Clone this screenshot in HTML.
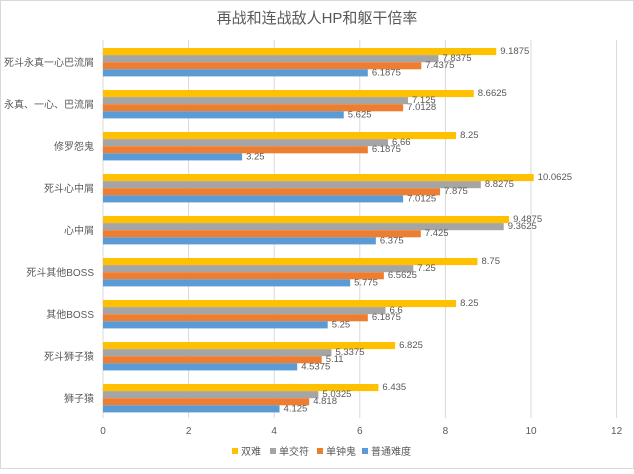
<!DOCTYPE html><html><head><meta charset="utf-8"><style>
body{margin:0;background:#fff}
svg text{font-family:"Liberation Sans","Noto Sans CJK SC",sans-serif;fill:#595959}
</style></head><body>
<svg width="634" height="469" xmlns="http://www.w3.org/2000/svg">
<rect x="0.5" y="0.5" width="633" height="468" fill="#fff" stroke="#d9d9d9"/>
<text x="317" y="23" font-size="15" text-anchor="middle">再战和连战敌人HP和躯干倍率</text>
<g stroke="#d9d9d9" stroke-width="1">
<line x1="103" y1="40" x2="103" y2="418"/><line x1="188.6" y1="40" x2="188.6" y2="418"/><line x1="274.2" y1="40" x2="274.2" y2="418"/><line x1="359.8" y1="40" x2="359.8" y2="418"/><line x1="445.4" y1="40" x2="445.4" y2="418"/><line x1="531" y1="40" x2="531" y2="418"/><line x1="616.6" y1="40" x2="616.6" y2="418"/>
</g>
<g font-size="10" text-anchor="middle">
<text x="103" y="434">0</text><text x="188.6" y="434">2</text><text x="274.2" y="434">4</text><text x="359.8" y="434">6</text><text x="445.4" y="434">8</text><text x="531" y="434">10</text><text x="616.6" y="434">12</text>
</g>
<g id="bars" font-size="9.5"></g>
<g font-size="10">
<rect x="232" y="448" width="6" height="6" fill="#ffc000"/><text x="241" y="455">双难</text>
<rect x="270" y="448" width="6" height="6" fill="#a5a5a5"/><text x="279" y="455">单交符</text>
<rect x="317" y="448" width="6" height="6" fill="#ed7d31"/><text x="326" y="455">单钟鬼</text>
<rect x="362" y="448" width="6" height="6" fill="#5b9bd5"/><text x="371" y="455">普通难度</text>
</g>
</svg>
<script>
var cats=["死斗永真一心巴流屑","永真、一心、巴流屑","修罗怨鬼","死斗心中屑","心中屑","死斗其他BOSS","其他BOSS","死斗狮子猿","狮子猿"];
var d=[["9.1875","7.8375","7.4375","6.1875"],["8.6625","7.125","7.0128","5.625"],["8.25","6.66","6.1875","3.25"],["10.0625","8.8275","7.875","7.0125"],["9.4875","9.3625","7.425","6.375"],["8.75","7.25","6.5625","5.775"],["8.25","6.6","6.1875","5.25"],["6.825","5.3375","5.11","4.5375"],["6.435","5.0325","4.818","4.125"]];
var col=["#ffc000","#a5a5a5","#ed7d31","#5b9bd5"];
var g=document.getElementById("bars"),ns="http://www.w3.org/2000/svg",h="";
for(var i=0;i<9;i++){var y0=48+i*42;
h+='<text x="94" y="'+(y0+18)+'" font-size="10" text-anchor="end">'+cats[i]+'</text>';
for(var j=0;j<4;j++){var v=parseFloat(d[i][j]),w=v*42.8,y=y0+j*7.1;
h+='<rect x="103" y="'+y+'" width="'+w+'" height="7.1" fill="'+col[j]+'"/>';
h+='<text x="'+(103+w+4)+'" y="'+(y+6)+'">'+d[i][j]+'</text>';}}
g.innerHTML=h;
</script>
</body></html>
